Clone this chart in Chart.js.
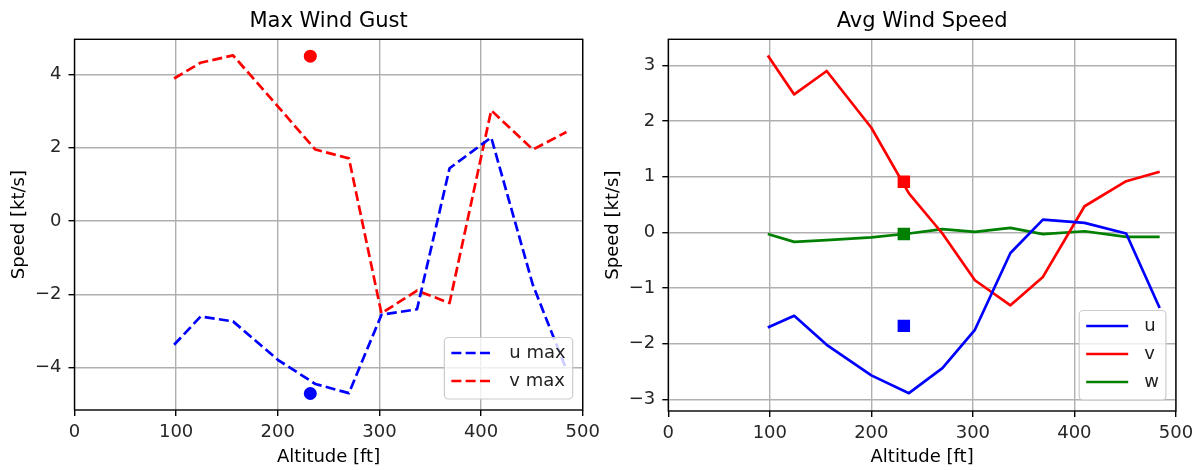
<!DOCTYPE html>
<html><head><meta charset="utf-8">
<script src="https://cdn.jsdelivr.net/npm/chart.js@4/dist/chart.umd.min.js"></script>
<style>
html,body{margin:0;padding:0;background:#fff;width:1199px;height:470px;overflow:hidden;}
canvas{position:absolute;top:0;}
#c1{left:0;} #c2{left:590px;}
</style></head><body>
<canvas id="c1" width="620" height="470"></canvas>
<canvas id="c2" width="609" height="470"></canvas>
<script>
// ---- data ----
const altitude = [98, 124, 156, 200, 237, 270, 302, 337, 369, 410, 451, 484];
const uMax = [-3.38, -2.61, -2.74, -3.79, -4.45, -4.70, -2.56, -2.41, 1.44, 2.28, -1.75, -4.06];
const vMax = [3.89, 4.32, 4.52, 3.13, 1.95, 1.71, -2.52, -1.90, -2.24, 3.02, 1.95, 2.43];
const uAvg = [-1.71, -1.50, -2.02, -2.57, -2.89, -2.44, -1.75, -0.37, 0.23, 0.17, -0.02, -1.36];
const vAvg = [3.18, 2.48, 2.90, 1.88, 0.70, -0.02, -0.86, -1.31, -0.80, 0.47, 0.92, 1.09];
const wAvg = [-0.03, -0.17, -0.14, -0.09, -0.02, 0.06, 0.01, 0.08, -0.03, 0.02, -0.08, -0.08];
const markerAlt = 232;
const uMaxMarker = -4.71, vMaxMarker = 4.50;
const uAvgMarker = -1.68, vAvgMarker = 0.91, wAvgMarker = -0.03;
const xTicks = [0, 100, 200, 300, 400, 500];
const gustTicks = [-4, -2, 0, 2, 4];
const avgTicks = [-3, -2, -1, 0, 1, 2, 3];
const gustRange = [-5.16, 4.96];
const avgRange = [-3.21, 3.47];
const titles = ['Max Wind Gust', 'Avg Wind Speed'];
const xLabel = 'Altitude [ft]';
const yLabel = 'Speed [kt/s]';

// ---- helpers ----
const FAM = '"DejaVu Sans", sans-serif';
const BLUE = '#0000ff', RED = '#ff0000', GREEN = '#008000';
const DASH = [10, 4.3];
const pts = (xs, ys) => xs.map((x, i) => ({x: x, y: ys[i]}));
const fmt = v => (v < 0 ? '\u2212' + Math.abs(v) : String(v));

function lineDs(label, ys, color, dashed) {
  return {label: label, inLegend: true, data: pts(altitude, ys), showLine: true,
    borderColor: color, backgroundColor: color, borderWidth: 2.7,
    borderDash: dashed ? DASH : [], borderJoinStyle: 'round',
    pointRadius: 0, pointHoverRadius: 0, tension: 0};
}
function markDs(y, color, style, r) {
  return {label: '', inLegend: false, data: [{x: markerAlt, y: y}], showLine: false,
    pointStyle: style, pointRadius: r, pointHoverRadius: r, borderWidth: 0,
    backgroundColor: color, borderColor: color};
}

const framePlugin = {
  id: 'frame',
  afterDatasetsDraw(chart) {
    const {ctx, chartArea: a} = chart;
    ctx.save();
    ctx.strokeStyle = '#000'; ctx.lineWidth = 1.4;
    ctx.strokeRect(a.left, a.top, a.right - a.left, a.bottom - a.top);
    ctx.restore();
  },
  afterDraw(chart) {
    const {ctx, chartArea: a} = chart;
    const items = chart.data.datasets.filter(d => d.inLegend);
    ctx.save();
    ctx.font = '18px ' + FAM;
    const tw = Math.max(...items.map(d => ctx.measureText(d.label).width));
    const padL = 7, lineLen = 42, gap = 16, padR = 7, rowH = 28;
    const w = padL + lineLen + gap + tw + padR, h = rowH * items.length + 5.5;
    const x = a.right - 10 - w, y = a.bottom - 11 - h, r = 4;
    ctx.beginPath();
    ctx.moveTo(x + r, y); ctx.lineTo(x + w - r, y); ctx.arcTo(x + w, y, x + w, y + r, r);
    ctx.lineTo(x + w, y + h - r); ctx.arcTo(x + w, y + h, x + w - r, y + h, r);
    ctx.lineTo(x + r, y + h); ctx.arcTo(x, y + h, x, y + h - r, r);
    ctx.lineTo(x, y + r); ctx.arcTo(x, y, x + r, y, r); ctx.closePath();
    ctx.fillStyle = 'rgba(255,255,255,0.8)'; ctx.fill();
    ctx.strokeStyle = '#cccccc'; ctx.lineWidth = 1.2; ctx.stroke();
    items.forEach((d, i) => {
      const cy = y + 15.5 + rowH * i;
      ctx.beginPath(); ctx.setLineDash(d.borderDash || []);
      ctx.lineWidth = d.borderWidth; ctx.strokeStyle = d.borderColor;
      ctx.moveTo(x + padL, cy); ctx.lineTo(x + padL + lineLen, cy); ctx.stroke();
      ctx.setLineDash([]);
      ctx.fillStyle = '#222'; ctx.textBaseline = 'middle'; ctx.textAlign = 'left';
      ctx.fillText(d.label, x + padL + lineLen + gap, cy);
    });
    ctx.restore();
  }
};

function makeChart(id, datasets, cfg) {
  const tickFont = {family: FAM, size: 18};
  return new Chart(document.getElementById(id), {
    type: 'scatter',
    data: {datasets: datasets},
    options: {
      responsive: false, animation: false, devicePixelRatio: 1,
      layout: {padding: {left: 0, right: cfg.padRight, top: 0, bottom: 0}},
      plugins: {
        legend: {display: false}, tooltip: {enabled: false},
        title: {display: true, text: cfg.title, fullSize: false, color: '#000',
          font: {family: FAM, size: 21, weight: 'normal'}, padding: {top: 9.3, bottom: 4.8}}
      },
      scales: {
        x: {type: 'linear', min: 0, max: 500,
          afterBuildTicks: s => { s.ticks = xTicks.map(v => ({value: v})); },
          afterFit: s => { s.height = cfg.xHeight; },
          grid: {color: '#b0b0b0', lineWidth: 1.4, tickColor: '#000', tickLength: 6, tickWidth: 1.4},
          border: {display: false},
          ticks: {color: '#262626', font: tickFont, padding: 5.9, maxRotation: 0, autoSkip: false, callback: fmt},
          title: {display: true, text: xLabel, color: '#000', font: tickFont, padding: {top: 0, bottom: 1.8}}
        },
        y: {type: 'linear', min: cfg.range[0], max: cfg.range[1],
          afterBuildTicks: s => { s.ticks = cfg.yTicks.map(v => ({value: v})); },
          afterFit: s => { s.width = cfg.yWidth; },
          grid: {color: '#b0b0b0', lineWidth: 1.4, tickColor: '#000', tickLength: 6, tickWidth: 1.4},
          border: {display: false},
          ticks: {color: '#262626', font: tickFont, padding: 7, autoSkip: false, callback: fmt},
          title: {display: true, text: yLabel, color: '#000', font: tickFont, padding: {top: cfg.yTitlePad, bottom: 0}}
        }
      }
    },
    plugins: [framePlugin]
  });
}

makeChart('c1', [
  lineDs('u max', uMax, BLUE, true),
  lineDs('v max', vMax, RED, true),
  markDs(vMaxMarker, RED, 'circle', 6.5),
  markDs(uMaxMarker, BLUE, 'circle', 6.5)
], {title: titles[0], range: gustRange, yTicks: gustTicks, yWidth: 74.5, yTitlePad: 8.3, xHeight: 60, padRight: 620 - 582.7});

makeChart('c2', [
  lineDs('u', uAvg, BLUE, false),
  lineDs('v', vAvg, RED, false),
  lineDs('w', wAvg, GREEN, false),
  markDs(vAvgMarker, RED, 'rect', 8.8),
  markDs(wAvgMarker, GREEN, 'rect', 8.8),
  markDs(uAvgMarker, BLUE, 'rect', 8.8)
], {title: titles[1], range: avgRange, yTicks: avgTicks, yWidth: 78.3, yTitlePad: 12.1, xHeight: 59, padRight: 609 - 586.7});
</script>
</body></html>
